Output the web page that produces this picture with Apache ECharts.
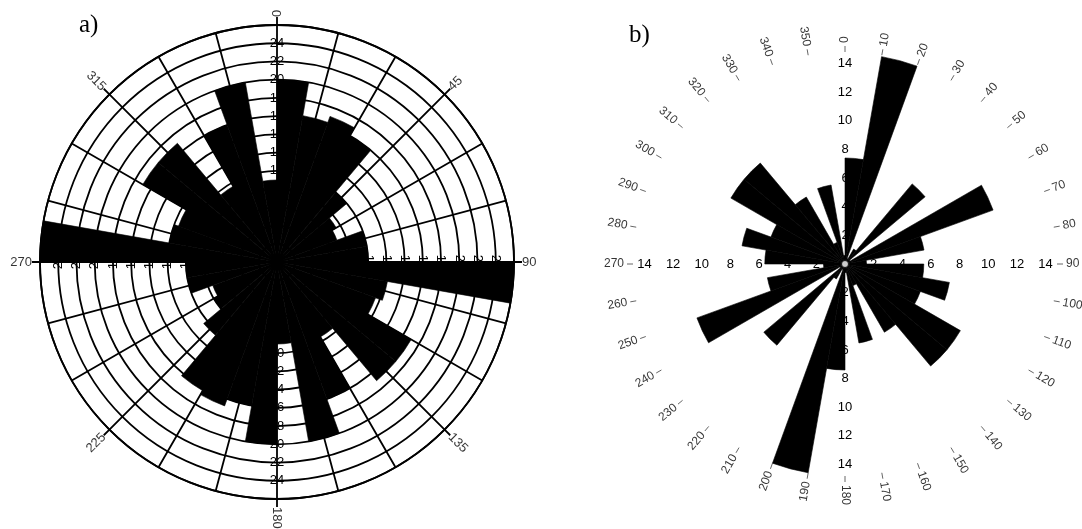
<!DOCTYPE html>
<html>
<head>
<meta charset="utf-8">
<script src="https://cdn.jsdelivr.net/npm/echarts@6/dist/echarts.min.js"></script>
<style>
  html, body { margin: 0; padding: 0; background: #fff; }
  #chart { width: 1082px; height: 529px; }
</style>
</head>
<body>
<div id="chart"></div>
<script>
// 10 degree bins, clockwise from north (bin start)
var binStarts = ['0', '10', '20', '30', '40', '50', '60', '70', '80', '90', '100', '110',
  '120', '130', '140', '150', '160', '170', '180', '190', '200', '210', '220', '230',
  '240', '250', '260', '270', '280', '290', '300', '310', '320', '330', '340', '350'];

// panel a) counts per bin
var countsA = [20, 16.3, 17, 16, 10, 7.5, 7, 10, 10, 26, 12.3, 11.5,
  17, 17, 9.5, 16, 20, 9, 20, 16, 16.8, 16.3, 10.5, 8,
  7.5, 10, 10, 26, 12, 11.5, 17, 17, 9.6, 16, 20, 9];

// panel b) counts per bin
var countsB = [7.4, 14.7, 0.4, 1.2, 7.3, 0.4, 11, 5.6, 1.5, 5.5, 7.4, 5.6,
  9.3, 9.3, 5.5, 1.6, 5.6, 0.6, 7.4, 14.8, 0.4, 1.2, 7.4, 0.4,
  11, 5.5, 1.5, 5.6, 7.3, 5.5, 9.2, 9.2, 5.4, 1.6, 5.6, 0.6];

var compassLabelsA = [0, 45, 90, 135, 180, 225, 270, 315];
var compassLabelsB = [0, 10, 20, 30, 40, 50, 60, 70, 80, 90, 100, 110, 120, 130, 140, 150, 160, 170,
  180, 190, 200, 210, 220, 230, 240, 250, 260, 270, 280, 290, 300, 310, 320, 330, 340, 350];
var ringLabelsA = [10, 12, 14, 16, 18, 20, 22, 24];
var ringLabelsB = [2, 4, 6, 8, 10, 12, 14];

var font = 'Liberation Sans, Arial, sans-serif';
var black = '#000';
var centerA = [277, 262], radiusA = 237, maxA = 26;
var centerB = [845, 264], radiusB = 212, maxB = 14.8;

var polar = [], angleAxis = [], radiusAxis = [], series = [];

function hiddenAngle(idx, startAngle) {
    return {polarIndex: idx, type: 'value', min: 0, max: 360, startAngle: startAngle, clockwise: true,
        axisLine: {show: false}, axisTick: {show: false}, axisLabel: {show: false}, splitLine: {show: false}};
}

function ringLabels(idx, max, list, rotate, size) {
    return {polarIndex: idx, type: 'value', min: 0, max: max, interval: 2,
        axisLine: {show: false}, axisTick: {show: false}, splitLine: {show: false},
        axisLabel: {show: true, margin: 0, align: 'center', verticalAlign: 'middle', rotate: rotate,
            fontSize: size, fontFamily: font, color: black,
            formatter: function (v) { return list.indexOf(v) >= 0 ? String(v) : ''; }}};
}

// compass labels written radially (kept readable on the left half)
function compassSeries(idx, list, size) {
    return {type: 'scatter', coordinateSystem: 'polar', polarIndex: idx, symbolSize: 0, silent: true, z: 4,
        label: {show: true, position: 'inside', verticalAlign: 'middle', fontSize: size, fontFamily: font, color: black,
            formatter: function (p) { return String(p.value[1]); }},
        data: list.map(function (a) {
            var right = a <= 180;
            return {value: [1, a], label: {rotate: right ? 90 - a : 270 - a, align: right ? 'left' : 'right'}};
        })};
}

function addPolar(center, radius) {
    polar.push({center: center, radius: radius});
    return polar.length - 1;
}

// ---- panel a ----
// grid: spokes every 15, rings every 2, north ring labels
var gA = addPolar(centerA, radiusA);
angleAxis.push({polarIndex: gA, type: 'value', min: 0, max: 360, interval: 15, startAngle: 90, clockwise: true,
    axisLine: {show: true, lineStyle: {color: black, width: 1.8}},
    axisTick: {show: false}, axisLabel: {show: false},
    splitLine: {show: true, lineStyle: {color: black, width: 1.8}}});
var r0 = ringLabels(gA, maxA, ringLabelsA, 0, 13);
r0.splitLine = {show: true, lineStyle: {color: black, width: 1.8}};
radiusAxis.push(r0);

// compass ticks
var tA = addPolar(centerA, radiusA);
angleAxis.push({polarIndex: tA, type: 'value', min: 0, max: 360, interval: 45, startAngle: 90, clockwise: true,
    axisLine: {show: false}, splitLine: {show: false}, axisLabel: {show: false},
    axisTick: {show: true, inside: false, length: 8, lineStyle: {color: black, width: 1.8}}});
radiusAxis.push({polarIndex: tA, type: 'value', min: 0, max: maxA, show: false});

// ring labels east / south / west
[[0, -90], [270, 0], [180, 90]].forEach(function (d) {
    var idx = addPolar(centerA, radiusA);
    angleAxis.push(hiddenAngle(idx, d[0]));
    radiusAxis.push(ringLabels(idx, maxA, ringLabelsA, d[1], 13));
});

// compass labels
var lA = addPolar(centerA, radiusA + 8);
angleAxis.push(hiddenAngle(lA, 90));
radiusAxis.push({polarIndex: lA, type: 'value', min: 0, max: 1, show: false});
series.push(compassSeries(lA, compassLabelsA, 13));

// bars
var bA = addPolar(centerA, radiusA);
angleAxis.push({polarIndex: bA, type: 'category', data: binStarts, startAngle: 90, clockwise: true, show: false});
radiusAxis.push({polarIndex: bA, type: 'value', min: 0, max: maxA, show: false});
series.push({type: 'bar', coordinateSystem: 'polar', polarIndex: bA, data: countsA, barCategoryGap: '0%',
    itemStyle: {color: black, borderColor: black, borderWidth: 0.6}, silent: true, z: 3});

// ---- panel b ----
// bars
var bB = addPolar(centerB, radiusB);
angleAxis.push({polarIndex: bB, type: 'category', data: binStarts, startAngle: 90, clockwise: true, show: false});
radiusAxis.push({polarIndex: bB, type: 'value', min: 0, max: maxB, show: false});
series.push({type: 'bar', coordinateSystem: 'polar', polarIndex: bB, data: countsB, barCategoryGap: '0%',
    itemStyle: {color: black, borderColor: black, borderWidth: 0.6}, silent: true, z: 3});

// angle ticks every 10 + north ring labels + centre mark
var tB = addPolar(centerB, radiusB);
angleAxis.push({polarIndex: tB, type: 'value', min: 0, max: 360, interval: 10, startAngle: 90, clockwise: true,
    axisLine: {show: false}, splitLine: {show: false}, axisLabel: {show: false},
    axisTick: {show: true, inside: false, length: 6, lineStyle: {color: '#666', width: 1}}});
radiusAxis.push(ringLabels(tB, maxB, ringLabelsB, 0, 13));
series.push({type: 'scatter', coordinateSystem: 'polar', polarIndex: tB, data: [[0, 0]], symbol: 'circle', symbolSize: 7,
    itemStyle: {color: '#fff', borderColor: black, borderWidth: 1}, silent: true, z: 5});

// ring labels east / south / west
[0, 270, 180].forEach(function (a) {
    var idx = addPolar(centerB, radiusB);
    angleAxis.push(hiddenAngle(idx, a));
    radiusAxis.push(ringLabels(idx, maxB, ringLabelsB, 0, 13));
});

// compass labels
var lB = addPolar(centerB, radiusB + 9);
angleAxis.push(hiddenAngle(lB, 90));
radiusAxis.push({polarIndex: lB, type: 'value', min: 0, max: 1, show: false});
series.push(compassSeries(lB, compassLabelsB, 12));

var roseChart = echarts.init(document.getElementById('chart'));
roseChart.setOption({
    animation: false,
    backgroundColor: '#fff',
    title: [
        {text: 'a)', left: 74, top: 8, textStyle: {fontFamily: 'Liberation Serif, Times New Roman, serif', fontWeight: 'normal', fontSize: 25, color: black}},
        {text: 'b)', left: 624, top: 18, textStyle: {fontFamily: 'Liberation Serif, Times New Roman, serif', fontWeight: 'normal', fontSize: 25, color: black}}
    ],
    polar: polar,
    angleAxis: angleAxis,
    radiusAxis: radiusAxis,
    series: series
});
</script>
</body>
</html>
